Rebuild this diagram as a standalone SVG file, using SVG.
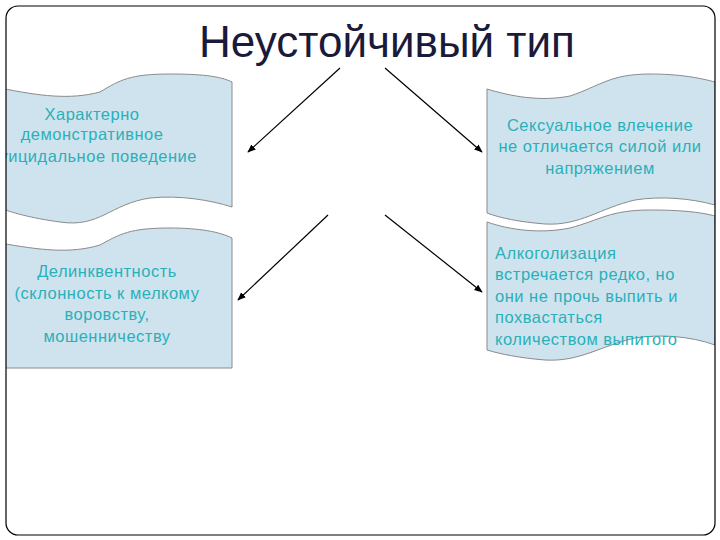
<svg xmlns="http://www.w3.org/2000/svg" width="720" height="540" viewBox="0 0 720 540">
<defs>
<style>
.s{fill:#cfe3ef;stroke:#8a8a8a;stroke-width:1}
.t{font-family:"Liberation Sans",Arial,sans-serif;font-size:16.5px;letter-spacing:0.5px;fill:#2ab0b8}
.c line{stroke:#000;stroke-width:1.2;marker-end:url(#a)}
</style>
<marker id="a" viewBox="0 0 10 10" refX="9" refY="5" markerWidth="7" markerHeight="7" orient="auto"><path d="M0,1L10,5L0,9z" fill="#000"/></marker>
<clipPath id="cl"><rect x="6" y="6" width="709" height="529" rx="12"/></clipPath>
</defs>
<rect width="720" height="540" fill="#fff"/>
<text x="387" y="57" text-anchor="middle" font-family="Liberation Sans,Arial,sans-serif" font-size="44" fill="#1a1a3a">Неустойчивый тип</text>
<g clip-path="url(#cl)">
<g id="n1"><path class="s" d="M0,88 C40,96 70,100 100,92 C120,80 130,74 170,74 C200,74 220,76 232,82 L232,207 C210,200 180,195 150,198 C110,204 100,228 60,222 C30,218 10,212 0,208 Z"/>
<text class="t" text-anchor="middle"><tspan x="92" y="120">Характерно</tspan><tspan x="92" y="140">демонстративное</tspan><tspan x="92" y="162">Суицидальное поведение</tspan></text></g>
<g id="n2"><path class="s" d="M0,243 C40,250 70,254 100,245 C120,234 130,228 170,228 C200,228 220,232 232,238 L232,368 L0,368 Z"/>
<text class="t" text-anchor="middle"><tspan x="107" y="277">Делинквентность</tspan><tspan x="107" y="299">(склонность к мелкому</tspan><tspan x="107" y="320">воровству,</tspan><tspan x="107" y="342">мошенничеству</tspan></text></g>
<g id="n3"><path class="s" d="M487,89 C510,96 540,102 570,96 C600,86 610,74 650,74 C680,74 700,78 715,82 L715,205 C690,198 660,196 635,200 C600,208 580,226 545,224 C520,222 500,218 487,213 Z"/>
<text class="t" text-anchor="middle"><tspan x="600" y="131">Сексуальное влечение</tspan><tspan x="600" y="152">не отличается силой или</tspan><tspan x="600" y="174">напряжением</tspan></text></g>
<g id="n4"><path class="s" d="M487,222 C510,230 540,234 570,228 C600,220 610,210 650,210 C680,210 700,212 715,216 L715,345 C690,336 660,334 635,338 C600,346 580,362 545,360 C520,358 500,354 487,350 Z"/>
<text class="t"><tspan x="495" y="259">Алкоголизация</tspan><tspan x="495" y="280">встречается редко, но</tspan><tspan x="495" y="302">они не прочь выпить и</tspan><tspan x="495" y="323">похвастаться</tspan><tspan x="495" y="345">количеством выпитого</tspan></text></g>
</g>
<g class="c" id="connectors">
<line x1="340" y1="68" x2="248" y2="152"/>
<line x1="385" y1="68" x2="482" y2="152"/>
<line x1="328" y1="215" x2="238" y2="300"/>
<line x1="385" y1="215" x2="482" y2="292"/>
</g>
<rect x="6" y="6" width="709" height="529" rx="12" fill="none" stroke="#000" stroke-width="1.2"/>
</svg>
